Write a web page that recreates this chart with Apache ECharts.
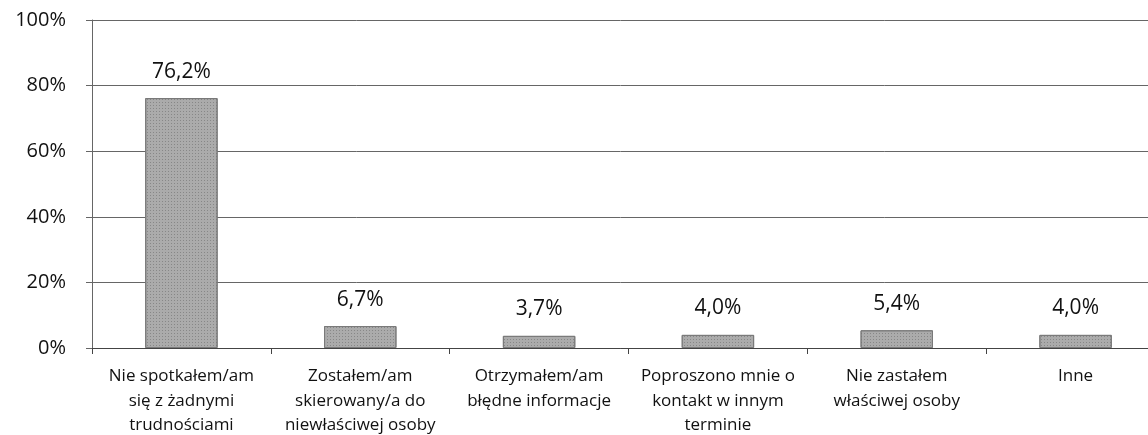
<!DOCTYPE html>
<html>
<head>
<meta charset="utf-8">
<script src="https://cdn.jsdelivr.net/npm/echarts@6/dist/echarts.min.js"></script>
<style>
  html, body { margin: 0; padding: 0; background: #fff; }
  #chart { width: 1148px; height: 435px; }
</style>
</head>
<body>
<div id="chart"></div>
<script>
// kategorie i wartości (%)
const categories = [
  "Nie spotkałem/am\nsię z żadnymi\ntrudnościami",
  "Zostałem/am\nskierowany/a do\nniewłaściwej osoby",
  "Otrzymałem/am\nbłędne informacje",
  "Poproszono mnie o\nkontakt w innym\nterminie",
  "Nie zastałem\nwłaściwej osoby",
  "Inne"
];
const values = [76.2, 6.7, 3.7, 4.0, 5.4, 4.0];
const yTicks = [0, 20, 40, 60, 80, 100];

const chart = echarts.init(document.getElementById("chart"));
chart.setOption({
  animation: false,
  textStyle: { fontFamily: "Open Sans" },
  grid: {
    left: 92, top: 20, width: 1073, height: 328,
    outerBoundsMode: "none",
    containLabel: false
  },
  xAxis: {
    type: "category",
    data: categories,
    axisLine: { lineStyle: { color: "#444", width: 1 } },
    axisTick: { show: true, length: 6, lineStyle: { color: "#444" } },
    axisLabel: {
      interval: 0,
      color: "#111",
      fontSize: 17,
      lineHeight: 24.5,
      margin: 16
    }
  },
  yAxis: {
    type: "value",
    min: yTicks[0],
    max: yTicks[yTicks.length - 1],
    interval: 20,
    axisLine: { show: true, lineStyle: { color: "#666" } },
    axisTick: { show: true, length: 6, lineStyle: { color: "#666" } },
    splitLine: { lineStyle: { color: "#666", width: 1 } },
    axisLabel: {
      formatter: "{value}%",
      color: "#111",
      fontSize: 20,
      margin: 26
    }
  },
  series: [
    {
      type: "bar",
      data: values,
      barWidth: "40.5%",
      itemStyle: {
        color: "#ababab",
        borderColor: "#7a7a7a",
        borderWidth: 1,
        decal: {
          symbol: "rect",
          symbolSize: 1,
          color: "rgba(70,70,70,0.35)",
          dashArrayX: [1, 2],
          dashArrayY: [1, 2],
          rotation: 0
        }
      },
      label: {
        show: true,
        position: "top",
        distance: 16,
        color: "#111",
        fontSize: 21,
        formatter: (p) => p.value.toFixed(1).replace(".", ",") + "%"
      }
    }
  ]
});
</script>
</body>
</html>
